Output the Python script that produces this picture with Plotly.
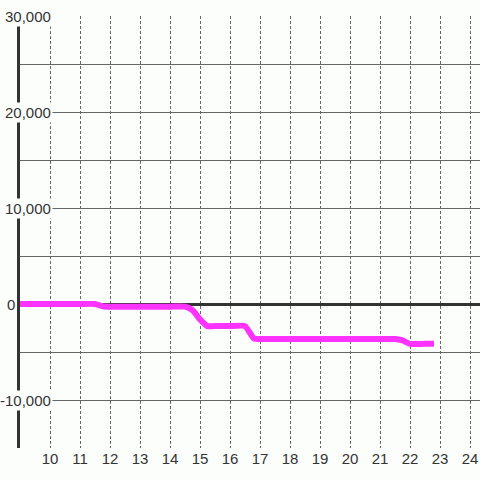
import plotly.graph_objs as go

# hour of day vs. cumulative value
hours = [9, 10, 11, 11.5, 11.75, 12, 13, 14, 14.5, 14.75, 15, 15.25, 15.5, 16, 16.5,
         16.8, 17, 18, 19, 20, 21, 21.5, 21.75, 22, 22.5, 22.8]
values = [0, 0, 0, 0, -230, -280, -280, -280, -280, -650, -1600, -2300, -2300, -2300, -2300,
          -3600, -3650, -3650, -3650, -3650, -3650, -3650, -3800, -4150, -4150, -4150]

xTicks = list(range(10, 25))
yLabels = [30000, 20000, 10000, 0, -10000]

bg = '#fcfefc'
textColor = '#333333'
fontFamily = 'Liberation Sans'

fig = go.Figure(go.Scatter(
    x=hours,
    y=values,
    mode='lines',
    line=dict(color='#ff33ff', width=6, shape='spline', smoothing=0.5),
    hoverinfo='skip'
))

annotations = []
for v in yLabels:
    annotations.append(dict(
        xref='paper', yref='y',
        x=(-3 / 460) if v == 0 else (33 / 460), y=v,
        xanchor='right', yanchor='middle',
        text=f'{v:,}',
        showarrow=False,
        bgcolor=bg,
        borderpad=1,
        font=dict(size=15, color=textColor, family=fontFamily)
    ))

fig.update_layout(
    width=480,
    height=480,
    margin=dict(t=16, b=32, l=20, r=0, pad=0),
    paper_bgcolor=bg,
    plot_bgcolor=bg,
    showlegend=False,
    font=dict(family=fontFamily, size=15, color=textColor),
    xaxis=dict(
        range=[9, 9 + 460 / 30],
        tickvals=xTicks,
        ticktext=[str(t) for t in xTicks],
        showgrid=True,
        gridcolor='#666666',
        gridwidth=1,
        griddash='3px,2px',
        zeroline=False,
        showline=False,
        ticks='',
        tickfont=dict(size=15, color=textColor, family=fontFamily)
    ),
    yaxis=dict(
        range=[-15000, 30000],
        dtick=5000,
        tick0=0,
        showticklabels=False,
        showgrid=True,
        gridcolor='#666666',
        gridwidth=1,
        zeroline=True,
        zerolinecolor='#333333',
        zerolinewidth=3,
        showline=True,
        linecolor='#333333',
        linewidth=3,
        ticks=''
    ),
    annotations=annotations
)

fig.write_html(
    'out.html',
    config={'displayModeBar': False},
    post_script="document.body.style.margin='0';document.body.style.overflow='hidden';"
)
